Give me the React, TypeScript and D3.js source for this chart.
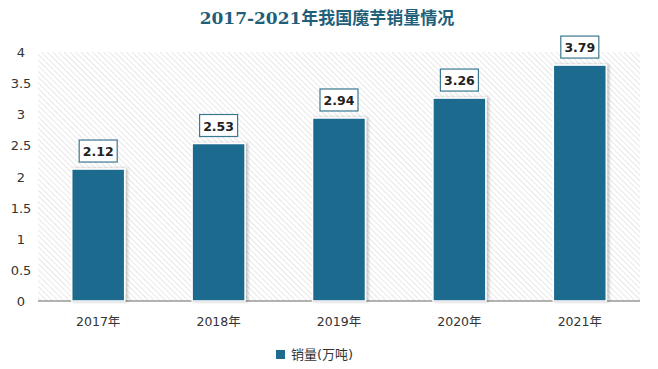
import { FC } from 'react';
import * as d3 from 'd3';

const years = ['2017年', '2018年', '2019年', '2020年', '2021年'];
const sales = [2.12, 2.53, 2.94, 3.26, 3.79];
const yTicks = [0, 0.5, 1, 1.5, 2, 2.5, 3, 3.5, 4];

const W = 658, H = 369;
const MARGIN = { top: 52, right: 18, bottom: 68, left: 38 };
const BAR = '#1f6b8e';

const App: FC = () => {
  const x = d3.scaleBand<string>().domain(years).range([MARGIN.left, W - MARGIN.right]).paddingInner(0.56).paddingOuter(0.28);
  const y = d3.scaleLinear().domain([0, 4]).range([H - MARGIN.bottom, MARGIN.top]);
  const font = '"DejaVu Sans", "Noto Sans CJK SC", sans-serif';

  return (
    <svg width={W} height={H} style={{ position: 'absolute', left: 0, top: 0 }}>
      <defs>
        <pattern id="hatch" width="4" height="4" patternUnits="userSpaceOnUse" patternTransform="rotate(-45)">
          <rect width="4" height="4" fill="#fff" />
          <line x1="0" y1="0" x2="0" y2="4" stroke="#dcdcdc" strokeWidth="1.3" />
        </pattern>
        <filter id="sh" x="-20%" y="-20%" width="140%" height="140%">
          <feDropShadow dx="2" dy="0" stdDeviation="1.5" floodColor="#000" floodOpacity="0.25" />
        </filter>
      </defs>
      <rect width={W} height={H} fill="#fff" />
      <text x={327} y={24} textAnchor="middle" fontFamily='"DejaVu Serif", "Noto Sans CJK SC", serif' fontWeight="bold" fontSize={17} fill="#1f5f7a">
        2017-2021年我国魔芋销量情况
      </text>
      <rect x={MARGIN.left} y={y(4)} width={W - MARGIN.right - MARGIN.left} height={y(0) - y(4)} fill="url(#hatch)" />
      {yTicks.map((t) => (
        <text key={t} x={21} y={y(t) + 5} textAnchor="middle" fontFamily={font} fontSize={13} fill="#333">{t}</text>
      ))}
      <line x1={MARGIN.left} x2={W - MARGIN.right} y1={y(0)} y2={y(0)} stroke="#999" strokeWidth={1.5} />
      {years.map((yr, i) => {
        const bx = x(yr)!;
        const bw = x.bandwidth();
        const cx = bx + bw / 2;
        const top = y(sales[i]);
        return (
          <g key={yr}>
            <rect x={bx} y={top} width={bw} height={y(0) - top} fill={BAR} stroke="#fff" strokeWidth={1.5} filter="url(#sh)" />
            <rect x={cx - 19} y={top - 29} width={38} height={22} fill="#fff" stroke="#3b7891" strokeWidth={1.2} />
            <text x={cx} y={top - 13} textAnchor="middle" fontFamily={font} fontWeight="bold" fontSize={12.5} fill="#222">{sales[i].toFixed(2)}</text>
            <text x={cx} y={326} textAnchor="middle" fontFamily={font} fontSize={12.5} fill="#333">{yr}</text>
          </g>
        );
      })}
      <rect x={276} y={350} width={9} height={9} fill={BAR} />
      <text x={291} y={359} fontFamily={font} fontSize={13} fill="#333">销量(万吨)</text>
    </svg>
  );
};

export default App;
